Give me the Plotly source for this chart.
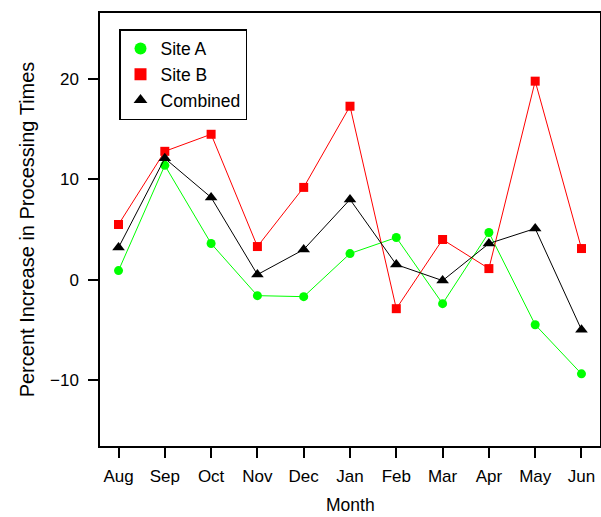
import plotly.graph_objects as go

months = ["Aug", "Sep", "Oct", "Nov", "Dec", "Jan", "Feb", "Mar", "Apr", "May", "Jun"]
site_a = [0.9, 11.4, 3.6, -1.6, -1.7, 2.6, 4.2, -2.4, 4.7, -4.5, -9.4]
site_b = [5.5, 12.8, 14.5, 3.3, 9.2, 17.3, -2.9, 4.0, 1.1, 19.8, 3.1]
combined = [3.2, 12.1, 8.2, 0.5, 3.0, 8.0, 1.5, -0.1, 3.6, 5.1, -5.0]
y_ticks = [-10, 0, 10, 20]

xpos = list(range(1, len(months) + 1))
font = dict(family="Liberation Sans, Arial, sans-serif", size=17, color="black")

series = [
    ("Site A", site_a, "#00FF00", "circle", 9),
    ("Site B", site_b, "#FF0000", "square", 9),
    ("Combined", combined, "black", "triangle-up", 11),
]

fig = go.Figure()
for name, vals, col, sym, sz in series:
    fig.add_trace(go.Scatter(x=xpos, y=vals, name=name, mode="lines+markers",
                             line=dict(color=col, width=1), showlegend=False,
                             marker=dict(symbol=sym, size=sz, color=col)))
for name, vals, col, sym, sz in series:
    fig.add_trace(go.Scatter(x=[None], y=[None], name=name, mode="markers",
                             showlegend=True,
                             marker=dict(symbol=sym, size=sz - 1, color=col)))

fig.update_layout(
    width=601, height=517,
    margin=dict(l=100, r=1, t=13, b=71, autoexpand=False),
    paper_bgcolor="white", plot_bgcolor="white",
    font=font,
    showlegend=True,
    legend=dict(x=0.038, y=0.963, xanchor="left", yanchor="top",
                bordercolor="black", borderwidth=1.5, bgcolor="white",
                font=dict(family=font["family"], size=17.5, color="black"),
                itemsizing="constant", tracegroupgap=0, itemwidth=30),
    xaxis=dict(range=[0.6, 11.4], tickmode="array", tickvals=xpos, ticktext=months,
               showgrid=False, zeroline=False, showline=True, mirror=True,
               linecolor="black", linewidth=1.5, ticks="outside", ticklen=10,
               tickwidth=1.5, tickcolor="black", ticklabelstandoff=4,
               automargin=False),
    yaxis=dict(range=[-16.6, 26.6], tickmode="array", tickvals=y_ticks,
               showgrid=False, zeroline=False, showline=True, mirror=True,
               linecolor="black", linewidth=1.5, ticks="outside", ticklen=10,
               tickwidth=1.5, tickcolor="black", ticklabelstandoff=6,
               automargin=False,
               title=dict(text="Percent Increase in Processing Times", standoff=10)),
    annotations=[dict(text="Month", xref="paper", yref="paper", x=0.5, y=0,
                      xanchor="center", yanchor="middle", yshift=-59,
                      showarrow=False,
                      font=dict(family=font["family"], size=17.5, color="black"))],
)

fig.write_html("out.html", config={"displayModeBar": False},
               post_script="document.body.style.margin='0px';")
